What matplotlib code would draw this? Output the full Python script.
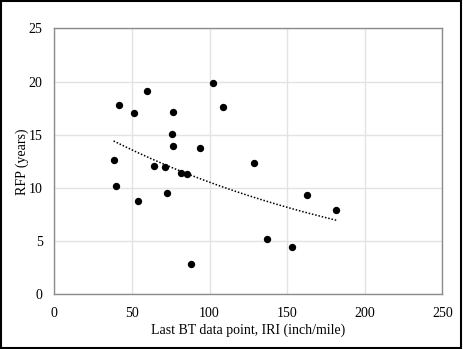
import numpy as np
import matplotlib
matplotlib.use("Agg")
import matplotlib.pyplot as plt
from matplotlib.patches import Rectangle

plt.rcParams['font.family'] = ['Liberation Serif', 'DejaVu Serif']

# Last BT data point IRI (inch/mile) and remaining functional period (years)
iri = [38.2, 39.7, 41.5, 51.5, 53.7, 59.7, 64.4, 71.5, 72.8, 76.0, 76.7, 76.7,
       81.4, 85.5, 88.3, 93.6, 102.0, 108.9, 128.4, 137.2, 152.9, 163.0, 181.7]
rfp = [12.63, 10.21, 17.83, 17.04, 8.80, 19.11, 12.06, 11.94, 9.52, 15.04, 17.11, 13.94,
       11.43, 11.34, 2.85, 13.72, 19.83, 17.58, 12.31, 5.17, 4.48, 9.30, 7.96]

x_ticks = [0, 50, 100, 150, 200, 250]
y_ticks = [0, 5, 10, 15, 20, 25]

x = np.array(iri)
y = np.array(rfp)

# Exponential trendline: least squares on ln(y)
b, ln_a = np.polyfit(x, np.log(y), 1)
xt = np.linspace(x.min(), x.max(), 200)
yt = np.exp(ln_a) * np.exp(b * xt)

fig = plt.figure(figsize=(4.63, 3.49), dpi=100)
ax = fig.add_axes([0.1173, 0.1567, 0.838, 0.7622])

ax.grid(True, color='#e3e3e3', linewidth=1.0, zorder=0)
ax.set_axisbelow(True)
ax.scatter(x, y, s=28, color='black', zorder=3, linewidths=0)
ax.plot(xt, yt, color='black', linestyle=(0, (1, 1.2)), linewidth=1.1, zorder=2)

ax.set_xlim(0, 250)
ax.set_ylim(0, 25)
ax.set_xticks(x_ticks)
ax.set_yticks(y_ticks)
ax.tick_params(length=0, labelsize=10, colors='black')
ax.tick_params(axis='y', pad=8.5)
ax.tick_params(axis='x', pad=9)
for sp in ax.spines.values():
    sp.set_color('#8c8c8c')
    sp.set_linewidth(1.0)

ax.set_xlabel('Last BT data point, IRI (inch/mile)', fontsize=10, labelpad=3)
ax.set_ylabel('RFP (years)', fontsize=10, labelpad=0)

# Outer frame around the figure
fig.patches.append(Rectangle((0.002, 0.003), 0.994, 0.993, transform=fig.transFigure,
                             fill=False, edgecolor='black', linewidth=1.5))

fig.savefig('out.png', dpi=100)
